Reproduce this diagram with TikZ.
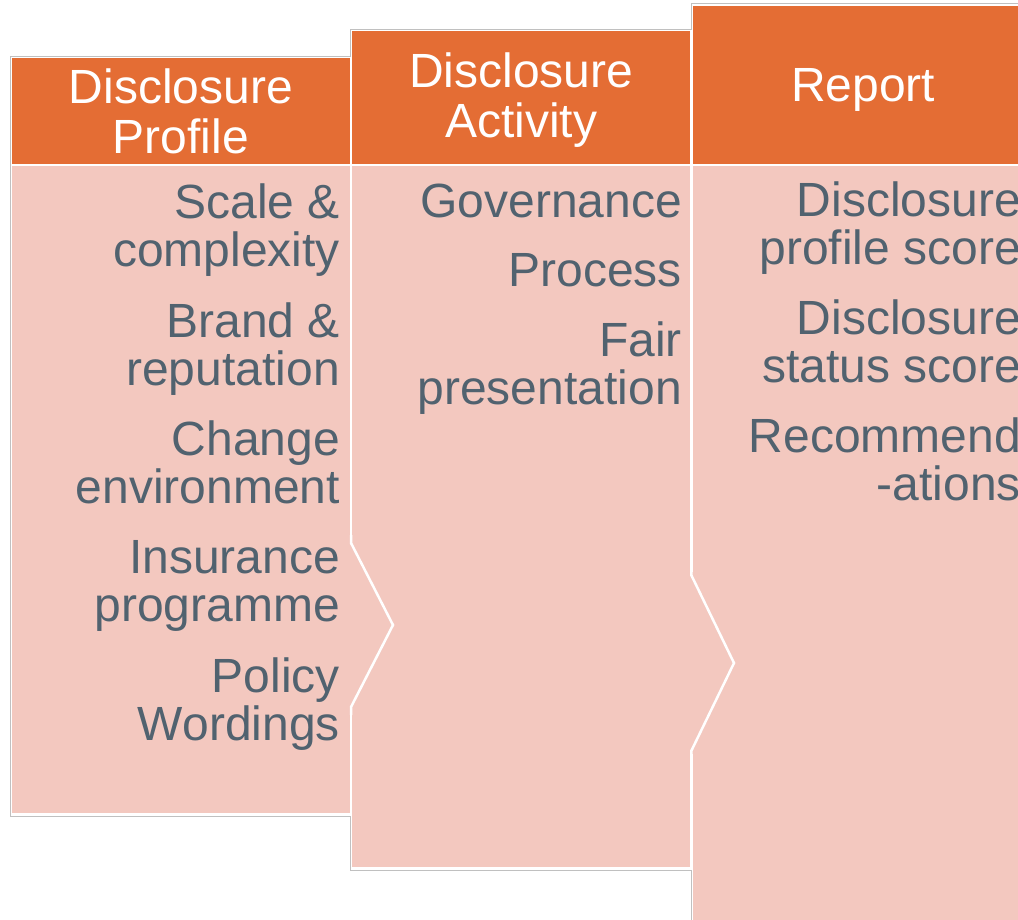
\documentclass[tikz,border=0pt]{standalone}
\usepackage{fontspec}
\setmainfont{Liberation Sans}
\usetikzlibrary{positioning}
\definecolor{headorange}{HTML}{E46D34}
\definecolor{bodypink}{HTML}{F3C8BF}
\definecolor{itemslate}{HTML}{51626F}
\definecolor{framegray}{HTML}{C0C0C0}
\tikzset{
  head/.style={fill=headorange, text=white, inner sep=0, anchor=north west, align=center, text depth=0pt, font=\fontsize{48}{50}\selectfont},
  bodyfill/.style={fill=bodypink, inner sep=0, anchor=north west},
  items/.style={text=itemslate, inner sep=0, anchor=north east, align=right, font=\fontsize{48}{48}\selectfont},
  notch/.style={white, line width=2.5pt, line join=miter}
}

\begin{document}
\begin{tikzpicture}[x=1pt, y=-1pt]
\useasboundingbox (0,0) rectangle (1018,919);
\clip (0,0) rectangle (1018,919);

% outer frame
\draw[framegray, fill=white, line width=1pt] (10,56) -- (350,56) -- (350,29) -- (691,29) -- (691,3.5) -- (1040,3.5) -- (1040,930) -- (691,930) -- (691,870) -- (350,870) -- (350,816) -- (10,816) -- cycle;

% headers
\node[head, minimum width=337.5pt, minimum height=106pt] (profile) at (12,58) {Disclosure\\Profile};
\node[head, text depth=5pt, minimum width=338pt, minimum height=133pt] (activity) at (352,31) {Disclosure\\Activity};
\node[head, minimum width=341pt, minimum height=158.5pt] (report) at (692.5,5.5) {Report};

% bodies
\node[bodyfill, minimum width=337.5pt, minimum height=647pt] (profilebody) at (12,166) {};
\node[bodyfill, minimum width=338pt, minimum height=701pt] (activitybody) at (352,166) {};
\node[bodyfill, minimum width=341pt, minimum height=770pt] (reportbody) at (692.5,166) {};

% chevrons
\fill[bodypink] (348,540) rectangle (354,710);
\draw[notch] (351,535) -- (351,543) -- (393,625) -- (351,707) -- (351,715);
\fill[bodypink] (689,572) rectangle (694,754);
\draw[notch] (691.25,565) -- (691.25,575) -- (734,663) -- (691.25,751) -- (691.25,760);

% items
\node[items] (profileitems) at (340,184) {Scale \&\\complexity\\[22.3pt]Brand \&\\reputation\\[22.3pt]Change\\environment\\[22.3pt]Insurance\\programme\\[22.3pt]Policy\\Wordings};
\node[items] (activityitems) at (682,184) {Governance\\[21pt]Process\\[22pt]Fair\\presentation};
\node[items] (reportitems) at (1021,182) {Disclosure\\profile score\\[22pt]Disclosure\\status score\\[22pt]Recommend\\-ations};
\end{tikzpicture}
\end{document}
